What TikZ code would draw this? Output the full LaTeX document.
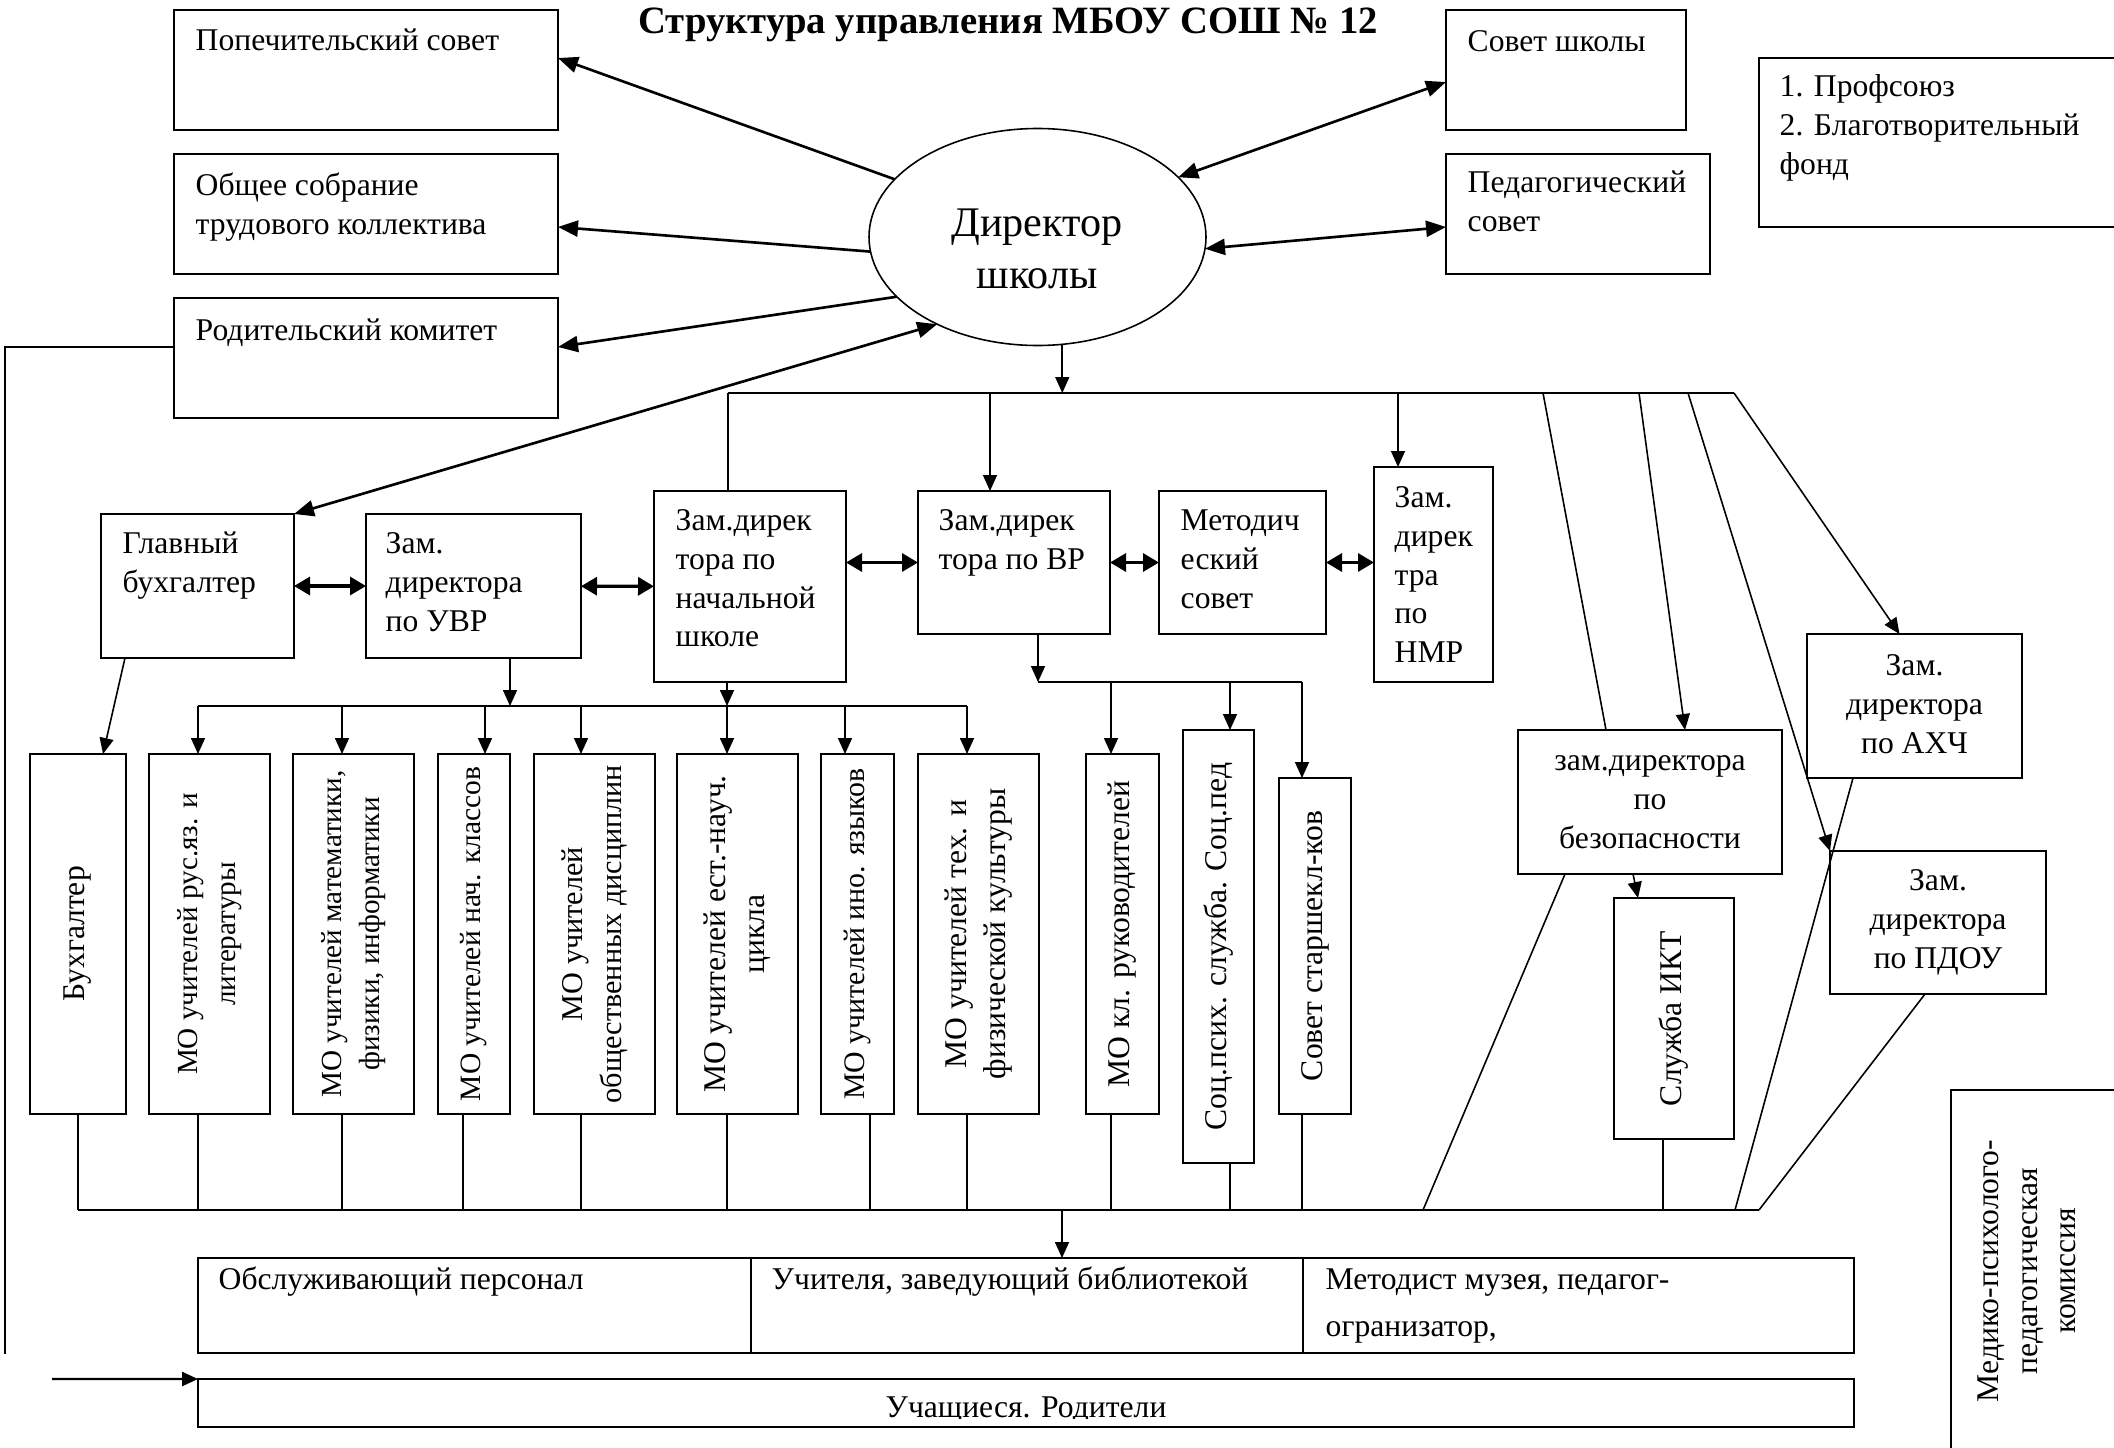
\documentclass[tikz,border=0pt]{standalone}
\usepackage{fontspec}
\setmainfont{Liberation Serif}
\usetikzlibrary{arrows.meta,shapes.geometric}

\begin{document}
\begin{tikzpicture}
[x=0.1mm, y=-0.1mm,
 box/.style={draw, line width=0.6pt, inner sep=0pt, outer sep=0pt},
 txt/.style={anchor=north west, align=left, inner sep=0pt, font=\fontsize{9}{11}\selectfont},
 ctxt/.style={anchor=north, align=center, inner sep=0pt, font=\fontsize{9}{11}\selectfont},
 vtxt/.style={rotate=90, align=center, inner sep=0pt, font=\fontsize{9}{11}\selectfont},
 ln/.style={line width=0.45pt},
 arr/.style={line width=0.45pt, -{Triangle[length=1.6mm,width=1.4mm]}},
 tarr/.style={line width=0.75pt, -{Triangle[length=2mm,width=1.6mm]}},
 dtarr/.style={line width=0.75pt, {Triangle[length=2mm,width=1.6mm]}-{Triangle[length=2mm,width=1.6mm]}},
 darr/.style={line width=0.9pt, {Triangle[length=1.6mm,width=1.8mm]}-{Triangle[length=1.6mm,width=1.8mm]}}]
\useasboundingbox (0,0) rectangle (2114,1448);

\node[anchor=base, inner sep=0pt, font=\bfseries\fontsize{11}{13}\selectfont] (title) at (1008,34) {Структура управления МБОУ СОШ № 12};

\node[box, minimum width=38.4mm, minimum height=12mm] (popech) at (366,70) {};
\node[txt] (popech-t) at (195,23) {\strut Попечительский совет};
\node[box, minimum width=38.4mm, minimum height=12mm] (sobranie) at (366,214) {};
\node[txt] (sobranie-t) at (195,168) {\strut Общее собрание\\трудового коллектива};
\node[box, minimum width=38.4mm, minimum height=12mm] (roditeli) at (366,358) {};
\node[txt] (roditeli-t) at (195,313) {\strut Родительский комитет};

\node[draw, ellipse, line width=0.45pt, minimum width=33.7mm, minimum height=21.7mm, inner sep=0pt, outer sep=0pt] (director) at (1037.5,237) {}; % director
\node[anchor=north, align=center, inner sep=0pt, font=\fontsize{12}{14.8}\selectfont] (director-t) at (1037,199) {\strut Директор\\школы};

\node[box, minimum width=24mm, minimum height=12mm] (sovetshk) at (1566,70) {};
\node[txt] (sovetshk-t) at (1467,24) {\strut Совет школы};
\node[box, minimum width=26.4mm, minimum height=12mm] (pedsovet) at (1578,214) {};
\node[txt] (pedsovet-t) at (1467,165) {\strut Педагогический\\совет};
\node[box, minimum width=40mm, minimum height=16.9mm] (profsoyuz) at (1959,142.5) {};
\node[txt] (profsoyuz-t) at (1779,69) {\strut 1. Профсоюз\\2. Благотворительный\\фонд};

\node[box, minimum width=19.3mm, minimum height=14.4mm] (glavbuh) at (197.5,586) {};
\node[txt] (glavbuh-t) at (122,526) {\strut Главный\\бухгалтер};
\node[box, minimum width=21.5mm, minimum height=14.4mm] (zamuvr) at (473.5,586) {};
\node[txt] (zamuvr-t) at (385,526) {\strut Зам.\\директора\\по УВР};
\node[box, minimum width=19.2mm, minimum height=19.1mm] (zamnach) at (750,586.5) {};
\node[txt] (zamnach-t) at (675,503) {\strut Зам.дирек\\тора по\\начальной\\школе};
\node[box, minimum width=19.2mm, minimum height=14.3mm] (zamvr) at (1014,562.5) {};
\node[txt] (zamvr-t) at (938,503) {\strut Зам.дирек\\тора по ВР};
\node[box, minimum width=16.7mm, minimum height=14.3mm] (metod) at (1242.5,562.5) {};
\node[txt] (metod-t) at (1180,503) {\strut Методич\\еский\\совет};
\node[box, minimum width=11.9mm, minimum height=21.5mm] (zamnmr) at (1433.5,574.5) {};
\node[txt] (zamnmr-t) at (1394,480) {\strut Зам.\\дирек\\тра\\по\\НМР};

\node[box, minimum width=26.4mm, minimum height=14.4mm] (bezop) at (1650,802) {};
\node[ctxt] (bezop-t) at (1650,743) {\strut зам.директора\\по\\безопасности};
\node[box, minimum width=21.5mm, minimum height=14.4mm] (zamahch) at (1914.5,706) {};
\node[ctxt] (zamahch-t) at (1914.5,648) {\strut Зам.\\директора\\по АХЧ};
\node[box, minimum width=21.6mm, minimum height=14.3mm] (zampdou) at (1938,922.5) {};
\node[ctxt] (zampdou-t) at (1938,863) {\strut Зам.\\директора\\по ПДОУ};
\node[box, minimum width=12mm, minimum height=24.1mm] (ikt) at (1674,1018.5) {};
\node[vtxt] (ikt-t) at (ikt) {Служба ИКТ};
\node[box, minimum width=20mm, minimum height=40mm] (medico) at (2051,1290) {};
\node[vtxt] (medico-t) at (2027,1271) {Медико-психолого-\\педагогическая\\комиссия};

\node[box, minimum width=9.6mm, minimum height=36mm] (buh) at (78,934) {};
\node[vtxt] (buh-t) at (buh) {Бухгалтер};
\node[box, minimum width=12.1mm, minimum height=36mm] (rus) at (209.5,934) {};
\node[vtxt, font=\fontsize{8.3}{11}\selectfont] (rus-t) at (rus) {МО учителей рус.яз. и\\литературы};
\node[box, minimum width=12.1mm, minimum height=36mm] (mat) at (353.5,934) {};
\node[vtxt, font=\fontsize{8.3}{11}\selectfont] (mat-t) at (mat) {МО учителей математики,\\физики, информатики};
\node[box, minimum width=7.2mm, minimum height=36mm] (nach) at (474,934) {};
\node[vtxt, font=\fontsize{8.4}{11}\selectfont] (nach-t) at (nach) {МО учителей нач. классов};
\node[box, minimum width=12.1mm, minimum height=36mm] (obsh) at (594.5,934) {};
\node[vtxt, font=\fontsize{8.6}{11}\selectfont] (obsh-t) at (obsh) {МО учителей\\общественных дисциплин};
\node[box, minimum width=12.1mm, minimum height=36mm] (est) at (737.5,934) {};
\node[vtxt] (est-t) at (est) {МО учителей ест.-науч.\\цикла};
\node[box, minimum width=7.3mm, minimum height=36mm] (ino) at (857.5,934) {};
\node[vtxt, font=\fontsize{8.5}{11}\selectfont] (ino-t) at (ino) {МО учителей ино. языков};
\node[box, minimum width=12.1mm, minimum height=36mm] (teh) at (978.5,934) {};
\node[vtxt] (teh-t) at (teh) {МО учителей тех. и\\физической культуры};
\node[box, minimum width=7.3mm, minimum height=36mm] (klruk) at (1122.5,934) {};
\node[vtxt] (klruk-t) at (klruk) {МО кл. руководителей};
\node[box, minimum width=7.1mm, minimum height=43.3mm] (soc) at (1218.5,946.5) {};
\node[vtxt] (soc-t) at (soc) {Соц.псих. служба. Соц.пед};
\node[box, minimum width=7.2mm, minimum height=33.6mm] (sovst) at (1315,946) {};
\node[vtxt] (sovst-t) at (sovst) {Совет старшекл-ков};

\node[box, minimum width=55.3mm, minimum height=9.5mm] (obsl) at (474.5,1305.5) {};
\node[txt] (obsl-t) at (218,1262) {\strut Обслуживающий персонал};
\node[box, minimum width=55.2mm, minimum height=9.5mm] (uchit) at (1027,1305.5) {};
\node[txt] (uchit-t) at (771,1262) {\strut Учителя, заведующий библиотекой};
\node[box, minimum width=55.1mm, minimum height=9.5mm] (metodist) at (1578.5,1305.5) {};
\node[txt, font=\fontsize{9}{13.4}\selectfont] (metodist-t) at (1325,1256) {\strut Методист музея, педагог-\\огранизатор,};
\node[box, minimum width=165.6mm, minimum height=4.8mm] (uchasch) at (1026,1403) {};
\begin{scope}
\clip (198,1379) rectangle (1854,1418);
\node[anchor=base, inner sep=0pt, font=\fontsize{9}{11}\selectfont] (uchasch-t) at (1026,1417) {Учащиеся. Родители};
\end{scope}

% links of the director
\draw[tarr] (director.158) -- ([yshift=1.2mm]popech.east);
\draw[tarr] (director.185) -- ([yshift=-1.3mm]sobranie.east);
\draw[tarr] (director.203) -- ([yshift=1.1mm]roditeli.east);
\draw[dtarr] (glavbuh.north east) -- (director.221);
\draw[dtarr] (director.23) -- ([yshift=-1.2mm]sovetshk.west);
\draw[dtarr] (director.356) -- ([yshift=-1.3mm]pedsovet.west);

\coordinate (bus1w) at (728,393);
\coordinate (bus1e) at (1734,393);
\coordinate (t-vr) at (990,393);
\coordinate (t-nmr) at (1398,393);
\coordinate (t-b1) at (1543,393);
\coordinate (t-b2) at (1639,393);
\coordinate (t-pd) at (1688,393);
\draw[arr] (director.283) -- (director.283 |- bus1w);
\draw[ln] (bus1w) -- (bus1e);
\draw[ln] (bus1w) -- (bus1w |- zamnach.north);
\draw[arr] (t-vr) -- (t-vr |- zamvr.north);
\draw[arr] (t-nmr) -- (t-nmr |- zamnmr.north);
\draw[ln] (t-b1) -- ([xshift=-4.4mm]bezop.north);
\draw[arr] (t-b2) -- ([xshift=3.5mm]bezop.north);
\draw[arr] (t-pd) -- (zampdou.north west);
\draw[arr] (bus1e) -- ([xshift=-1.5mm]zamahch.north);

\draw[darr] (glavbuh) -- (zamuvr);
\draw[darr] (zamuvr) -- (zamnach);
\draw[darr] (zamnach.east |- zamvr.west) -- (zamvr.west);
\draw[darr] (zamvr) -- (metod);
\draw[darr] (metod.east) -- (metod.east -| zamnmr.west);

\draw[arr] ([xshift=-7.25mm]glavbuh.south) -- ([xshift=2.5mm]buh.north);

\coordinate (bus2w) at (198,706);
\coordinate (bus2e) at (967,706);
\coordinate (u-uvr) at (510,706);
\coordinate (u-nach) at (727,706);
\coordinate (d-mat) at (342,706);
\coordinate (d-nach) at (485,706);
\coordinate (d-obsh) at (581,706);
\coordinate (d-ino) at (845,706);
\draw[ln] (bus2w) -- (bus2e);
\draw[arr] (u-uvr |- zamuvr.south) -- (u-uvr);
\draw[arr] (u-nach |- zamnach.south) -- (u-nach);
\draw[arr] (bus2w) -- (bus2w |- rus.north);
\draw[arr] (d-mat) -- (d-mat |- mat.north);
\draw[arr] (d-nach) -- (d-nach |- nach.north);
\draw[arr] (d-obsh) -- (d-obsh |- obsh.north);
\draw[arr] (u-nach) -- (u-nach |- est.north);
\draw[arr] (d-ino) -- (d-ino |- ino.north);
\draw[arr] (bus2e) -- (bus2e |- teh.north);

\coordinate (bus3w) at (1038,682);
\coordinate (bus3e) at (1302,682);
\coordinate (d-kl) at (1111,682);
\coordinate (d-soc) at (1230,682);
\draw[arr] (bus3w |- zamvr.south) -- (bus3w);
\draw[ln] (bus3w) -- (bus3e);
\draw[arr] (d-kl) -- (d-kl |- klruk.north);
\draw[arr] (d-soc) -- (d-soc |- soc.north);
\draw[arr] (bus3e) -- (bus3e |- sovst.north);

\coordinate (bus4w) at (78,1210);
\coordinate (bus4e) at (1759,1210);
\coordinate (e-rus) at (198,1210);
\coordinate (e-mat) at (342,1210);
\coordinate (e-nach) at (463,1210);
\coordinate (e-obsh) at (581,1210);
\coordinate (e-est) at (727,1210);
\coordinate (e-ino) at (870,1210);
\coordinate (e-teh) at (967,1210);
\coordinate (e-kl) at (1111,1210);
\coordinate (e-soc) at (1230,1210);
\coordinate (e-sov) at (1302,1210);
\coordinate (e-bez) at (1423,1210);
\coordinate (e-ikt) at (1663,1210);
\coordinate (e-ahch) at (1735,1210);
\coordinate (e-tab) at (1062,1210);
\draw[ln] (bus4w) -- (bus4e);
\draw[ln] (buh.south) -- (bus4w);
\draw[ln] (e-rus |- rus.south) -- (e-rus);
\draw[ln] (e-mat |- mat.south) -- (e-mat);
\draw[ln] (e-nach |- nach.south) -- (e-nach);
\draw[ln] (e-obsh |- obsh.south) -- (e-obsh);
\draw[ln] (e-est |- est.south) -- (e-est);
\draw[ln] (e-ino |- ino.south) -- (e-ino);
\draw[ln] (e-teh |- teh.south) -- (e-teh);
\draw[ln] (e-kl |- klruk.south) -- (e-kl);
\draw[ln] (e-soc |- soc.south) -- (e-soc);
\draw[ln] (e-sov |- sovst.south) -- (e-sov);
\draw[ln] (e-ikt |- ikt.south) -- (e-ikt);
\draw[ln] ([xshift=-8.5mm]bezop.south) -- (e-bez);
\draw[ln] ([xshift=-6.15mm]zamahch.south) -- (e-ahch);
\draw[ln] ([xshift=-1.3mm]zampdou.south) -- (bus4e);
\draw[arr] ([xshift=-1.7mm]bezop.south) -- ([xshift=-3.6mm]ikt.north);
\draw[arr] (e-tab) -- (e-tab |- uchit.north);

\coordinate (lft) at (5,1354);
\coordinate (arrst) at (52,1379);
\draw[ln] ([yshift=1.1mm]roditeli.west) -| (lft);
\draw[line width=0.7pt, -{Triangle[length=1.6mm,width=1.4mm]}] (arrst) -- (uchasch.north west);
\end{tikzpicture}
\end{document}
